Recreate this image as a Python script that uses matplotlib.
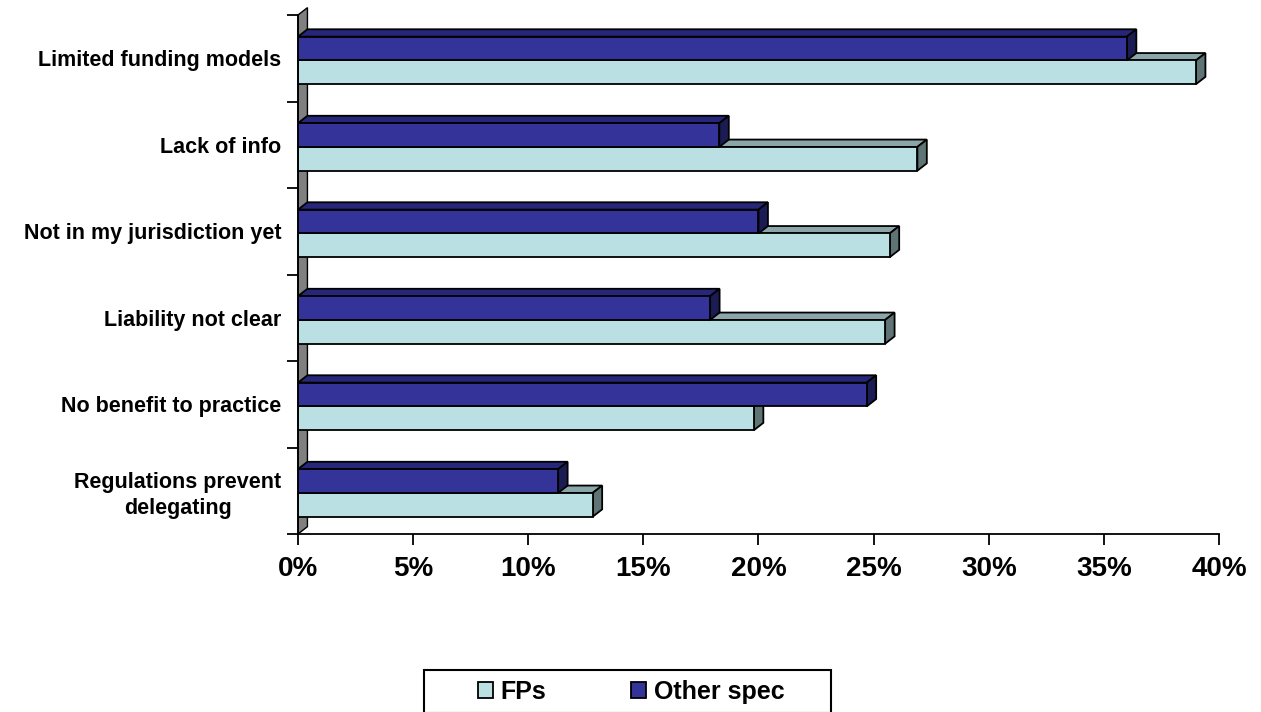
import matplotlib
matplotlib.use("Agg")
from matplotlib import pyplot as plt
from matplotlib.patches import Rectangle, Polygon

plt.rcParams['font.family'] = ['Liberation Sans', 'DejaVu Sans']
plt.rcParams['font.weight'] = 'bold'

# data
categories = ["Limited funding models", "Lack of info", "Not in my jurisdiction yet",
              "Liability not clear", "No benefit to practice", "Regulations prevent\ndelegating"]
fps = [39.0, 26.9, 25.7, 25.5, 19.8, 12.8]
other_spec = [36.0, 18.3, 20.0, 17.9, 24.7, 11.3]
xticks = [0, 5, 10, 15, 20, 25, 30, 35, 40]

# colours: front, top, side
fps_col = ("#BBE0E3", "#8AA6A8", "#5F7475")
oth_col = ("#333399", "#26267A", "#1C1C55")

dx = 0.41   # depth in % units
dy = 0.085  # depth in category units
bh = 0.275  # bar height


def bar3d(ax, y_top, value, cols):
    y_bot = y_top + bh
    top = Polygon([(0, y_top), (dx, y_top - dy), (value + dx, y_top - dy), (value, y_top)],
                  closed=True, facecolor=cols[1], edgecolor="black", lw=1.3)
    side = Polygon([(value, y_top), (value + dx, y_top - dy), (value + dx, y_bot - dy), (value, y_bot)],
                   closed=True, facecolor=cols[2], edgecolor="black", lw=1.3)
    front = Rectangle((0, y_top), value, bh, facecolor=cols[0], edgecolor="black", lw=1.3)
    for p in (top, side, front):
        ax.add_patch(p)


fig = plt.figure(figsize=(12.61, 7.12), dpi=100)
ax = fig.add_axes([298 / 1261, 1 - 534 / 712, 921 / 1261, 519 / 712])

# left wall
wall = Polygon([(0, 6), (dx, 6 - dy), (dx, -dy), (0, 0)], closed=True,
               facecolor="#808080", edgecolor="black", lw=1.0, clip_on=False, zorder=1)
ax.add_patch(wall)

for i in range(len(categories)):
    bar3d(ax, i + 0.525, fps[i], fps_col)
    bar3d(ax, i + 0.25, other_spec[i], oth_col)

ax.set_xlim(0, 40)
ax.set_ylim(6, 0)

ax.spines['top'].set_visible(False)
ax.spines['right'].set_visible(False)
ax.spines['left'].set_linewidth(1.3)
ax.spines['bottom'].set_linewidth(1.3)

ax.set_xticks(xticks)
ax.set_xticklabels(["{}%".format(v) for v in xticks], fontsize=20, fontweight="bold")
ax.tick_params(axis="x", direction="out", length=8, width=1.3, pad=8)

ax.set_yticks(range(7))
ax.set_yticklabels([])
ax.set_yticks([i + 0.5 for i in range(6)], minor=True)
ax.set_yticklabels(categories, minor=True, fontsize=15.5, fontweight="bold")
ax.tick_params(axis="y", which="major", direction="out", length=8, width=1.3)
ax.tick_params(axis="y", which="minor", length=0, pad=12)
for lab in ax.get_yticklabels(minor=True):
    lab.set_multialignment("center")
    lab.set_linespacing(1.3)

# legend
frame = Rectangle((424 / 1261, 1 - 713 / 712), 407 / 1261, 43 / 712, transform=fig.transFigure,
                  facecolor="white", edgecolor="black", lw=1.5, clip_on=False)
fig.patches.append(frame)
h1 = Rectangle((0, 0), 1, 1, facecolor=fps_col[0], edgecolor="black", lw=1.3)
h2 = Rectangle((0, 0), 1, 1, facecolor=oth_col[0], edgecolor="black", lw=1.3)
fig.legend([h1, h2], ["FPs", "Other spec"], loc="center", bbox_to_anchor=(631 / 1261, 1 - 692 / 712),
           ncol=2, frameon=False, prop={"size": 18, "weight": "bold"},
           handlelength=0.6, handleheight=0.6, handletextpad=0.3, columnspacing=3.4)

plt.savefig("out.png", dpi=100)
